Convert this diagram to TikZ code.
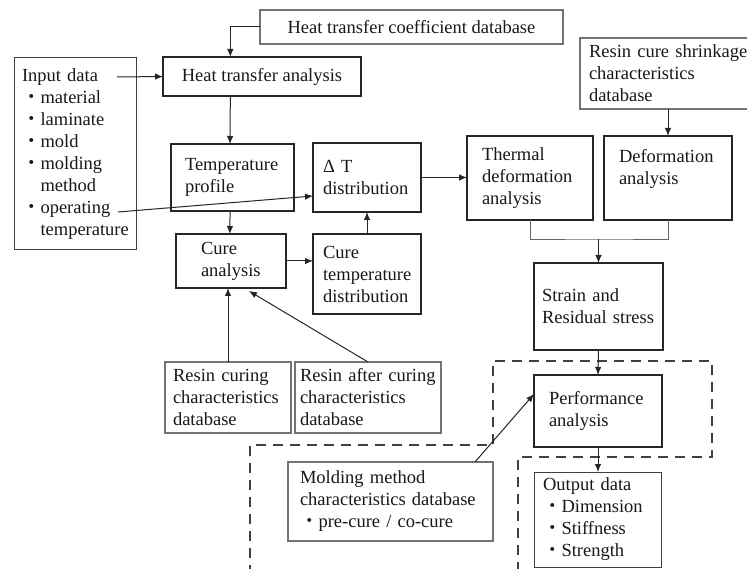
\documentclass[tikz,border=0pt]{standalone}
\usepackage{fontspec}
\setmainfont{Liberation Serif}
\newfontfamily\cjk{Noto Sans CJK JP}
\usetikzlibrary{arrows.meta,calc}
\newcommand\bul{{\cjk ・}}
\newcommand\ind{\hspace*{1em}}
\hyphenpenalty=10000
\exhyphenpenalty=10000
\hbadness=10000
\hfuzz=20pt
\begin{document}
\begin{tikzpicture}[x=1pt,y=-1pt,
  font=\fontsize{18.5}{22}\selectfont,
  base/.style={inner ysep=0pt, outer sep=0pt, align=left, text=black!90},
  proc/.style={base, draw=black!85, line width=2.4pt},
  dbase/.style={base, draw=black!55, line width=2.2pt},
  plainbox/.style={base, draw=black!75, line width=1pt},
  arr/.style={draw=black!85, line width=1pt, -{Latex[length=8pt,width=6.5pt]}},
  link/.style={draw=black!60, line width=0.9pt},
  region/.style={draw=black!75, line width=2pt, dash pattern=on 10pt off 7pt}]
\useasboundingbox[fill=white] (0,0) rectangle (747,569);

% dashed region
\draw[region] (250,575) -- (250,445) -- (493,445) -- (493,361) -- (712,361) -- (712,457) -- (518,457) -- (518,575);

% nodes
\node[dbase, align=center, inner xsep=0pt, minimum width=303pt, minimum height=34pt] (htcdb) at (411.5,27) {Heat transfer coefficient database};
\node[proc, align=center, inner xsep=0pt, minimum width=198pt, minimum height=39pt] (hta) at (262,76.5) {Heat transfer analysis};
\node[plainbox, minimum width=122pt, minimum height=192pt, text width=106pt, inner xsep=8pt] (input) at (75,154)
  {Input data\\\bul material\\\bul laminate\\\bul mold\\\bul molding\\\ind method\\\bul operating\\\ind temperature};
\node[proc, minimum width=123pt, minimum height=67pt, text width=95pt, inner xsep=14pt] (tp) at (232.5,177.5) {Temperature\\profile};
\node[proc, minimum width=108pt, minimum height=69pt, text width=88pt, inner xsep=10pt] (dt) at (367,177.5) {Δ T\\distribution};
\node[proc, minimum width=110pt, minimum height=54pt, text width=60pt, inner xsep=25pt] (ca) at (231,261) {Cure\\analysis};
\node[proc, minimum width=108pt, minimum height=80pt, text width=88pt, inner xsep=10pt] (ctd) at (367,274) {Cure\\temperature\\distribution};
\node[proc, minimum width=126pt, minimum height=84pt, text width=96pt, inner xsep=15pt] (tda) at (530,178) {Thermal\\deformation\\analysis};
\node[proc, minimum width=128pt, minimum height=84pt, text width=98pt, inner xsep=15pt] (da) at (668,178) {Deformation\\analysis\\\mbox{}};
\node[dbase, minimum width=180pt, minimum height=71pt, text width=162pt, inner xsep=9pt] (rcsdb) at (670,73.5) {Resin cure shrinkage\\characteristics\\database};
\node[proc, minimum width=129pt, minimum height=87pt, text width=113pt, inner xsep=8pt] (srs) at (598.5,306.5) {Strain and\\Residual stress};
\node[proc, minimum width=128pt, minimum height=72pt, text width=98pt, inner xsep=15pt] (pa) at (598,411) {Performance\\analysis};
\node[plainbox, minimum width=127pt, minimum height=95pt, text width=109pt, inner xsep=9pt] (out) at (597.5,519.5) {Output data\\\bul Dimension\\\bul Stiffness\\\bul Strength};
\node[dbase, minimum width=205pt, minimum height=79pt, text width=181pt, inner xsep=12pt] (mmdb) at (390.5,501.5) {Molding method\\characteristics database\\\bul pre-cure / co-cure};
\node[dbase, minimum width=126pt, minimum height=71pt, text width=110pt, inner xsep=8pt] (rcdb) at (228,397.5) {Resin curing\\characteristics\\database};
\node[dbase, minimum width=146pt, minimum height=71pt, text width=136pt, inner xsep=5pt] (racdb) at (368,397.5) {\mbox{Resin after curing}\\characteristics\\database};

% connectors
\draw[arr] (htcdb.west) -| ($(hta.north west)!0.34!(hta.north east)$);
\draw[arr] ($(input.north west)+(103,19)$) -- (hta.west);
\draw[arr] ($(hta.south west)!0.34!(hta.south east)$) -- ($(tp.north west)!0.48!(tp.north east)$);
\draw[arr] ($(input.north west)+(104,154)$) -- ($(dt.south west)+(0,-16)$);
\draw[arr] ($(tp.south west)!0.48!(tp.north east |- tp.south)$) -- ($(ca.north west)!0.49!(ca.north east)$);
\draw[arr] (ca.east) -- (ca.east -| ctd.west);
\draw[arr] (ctd.north) -- (dt.south);
\draw[arr] (dt.east) -- (dt.east -| tda.west);
\draw[arr] (da.north |- rcsdb.south) -- (da.north);
\coordinate (jn) at ($(srs.north)+(0,-24)$);
\draw[link] (tda.south) |- (jn) -| (da.south);
\draw[arr] (jn) -- (srs.north);
\draw[arr] (srs.south) -- (pa.north);
\draw[arr] (pa.south) -- (pa.south |- out.north);
\draw[arr] ($(mmdb.north east)+(-18,0)$) -- ($(pa.west)+(0,-17)$);
\draw[arr] (rcdb.north) -- (rcdb.north |- ca.south);
\draw[arr] (racdb.north) -- ($(ca.south)+(18,3)$);
\end{tikzpicture}
\end{document}
